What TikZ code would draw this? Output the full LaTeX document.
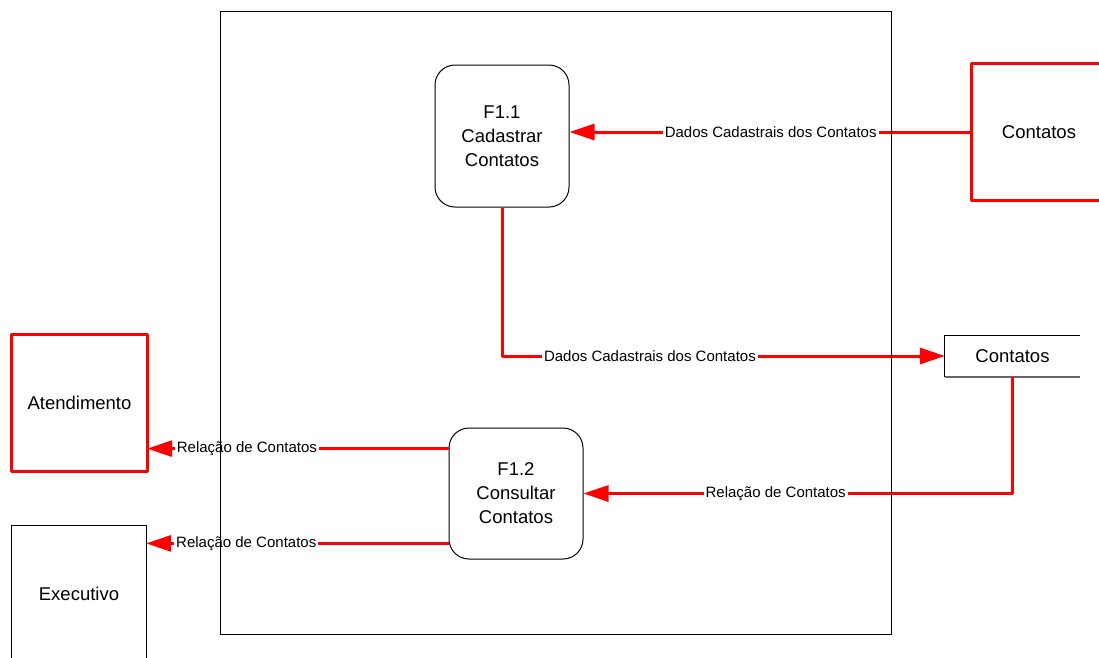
\documentclass[tikz,border=0pt]{standalone}
\usepackage{fontspec}
\setmainfont{Liberation Sans}
\usetikzlibrary{arrows.meta,calc}
\begin{document}
\begin{tikzpicture}[x=1pt,y=-1pt,
  flow/.style={draw=red, line width=3pt, line join=round,
    -{Triangle[length=25pt,width=16pt]}},
  lbl/.style={fill=white, inner xsep=2pt, inner ysep=1pt, text=black,
    font=\fontsize{15}{18}\selectfont},
  txt/.style={align=center, font=\fontsize{18.5}{24}\selectfont, inner sep=0pt},
  proc/.style={txt, draw=black, line width=1pt, rounded corners=20pt,
    minimum width=134pt},
  extbox/.style={draw=red, line width=3pt, line join=round},
  thin/.style={draw=black, line width=1pt}
]
\useasboundingbox (0,0) rectangle (1099,657);

% processes
\node[proc, minimum height=142pt] (f11) at (502,136) {F1.1\\Cadastrar\\Contatos};
\node[proc, minimum height=131pt] (f12) at (516,493.5) {F1.2\\Consultar\\Contatos};

% external entities and data store (placed as text, outlines drawn below)
\node[txt, minimum width=134pt, minimum height=136pt] (ext) at (1039,132) {Contatos};
\node[txt, minimum width=135pt, minimum height=41pt] (store) at (1012.5,356) {Contatos};
\node[txt, minimum width=135pt, minimum height=136pt] (atd) at (79.5,403) {Atendimento};
\node[txt, minimum width=134pt, minimum height=136pt] (exe) at (79,594) {Executivo};

% outlines
\draw[extbox] (ext.north east) -- (ext.north west) -- (ext.south west) -- (ext.south east);
\draw[extbox] (atd.north west) rectangle (atd.south east);
\draw[thin] (exe.south west) -- (exe.north west) -- (exe.north east) -- (exe.south east);
\draw[thin] (store.north east) -- (store.north west) -- (store.south west);
\draw[draw=black!60, line width=2pt] (store.south west) -- (store.south east);

% data flows
\draw[flow] (ext.west) -- node[lbl, pos=0.5] {Dados Cadastrais dos Contatos} (f11.east |- ext.west);
\draw[flow] (f11.south) |- node[lbl, pos=0.667] {Dados Cadastrais dos Contatos} (store.west);
\draw[flow] (store.south) |- node[lbl, pos=0.776] {Relação de Contatos} (f12.east);

\coordinate (o1) at ($(f12.north west)!0.16!(f12.south west)$);
\coordinate (o2) at ($(f12.north west)!0.878!(f12.south west)$);
\draw[flow] (o1) -- node[lbl, pos=0.669] {Relação de Contatos} (atd.east |- o1);
\draw[flow] (o2) -- node[lbl, pos=0.669] {Relação de Contatos} (exe.east |- o2);

% system boundary
\node[thin, draw, minimum width=671pt, minimum height=623pt, inner sep=0pt] (frame) at (555.5,322.5) {};
\end{tikzpicture}
\end{document}
